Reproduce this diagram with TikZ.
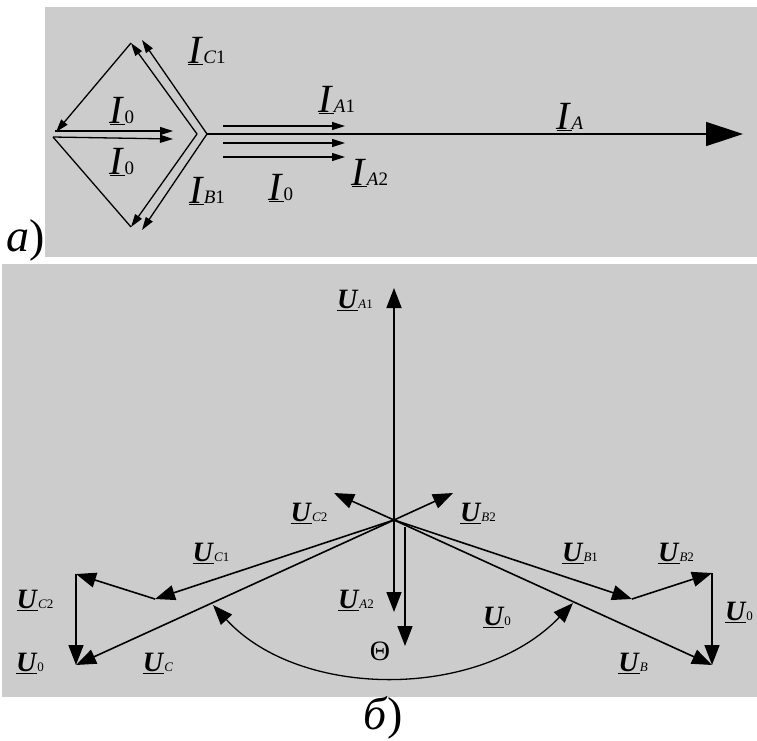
\documentclass[tikz,border=0pt]{standalone}
\usepackage{fontspec}
\setmainfont{Liberation Serif}
\usetikzlibrary{arrows.meta}
\definecolor{panelgray}{RGB}{204,204,204}
\newcommand{\Iv}[1]{\fontsize{40}{40}\selectfont\underline{\textit{I}}{\fontsize{19}{19}\selectfont#1}}
\newcommand{\Uv}[1]{\fontsize{28}{28}\selectfont\underline{\textbf{\textit{U}}}{\fontsize{13}{13}\selectfont#1}}

\begin{document}
\begin{tikzpicture}[
  x = 1pt, y = -1pt,
  every node/.style = {inner sep=0pt},
  arrs/.style = {-{Triangle[length=13pt, width=8pt]}, line width=1.3pt},
  arrbig/.style = {-{Triangle[length=37pt, width=24pt]}, line width=1.5pt},
  arru/.style = {-{Triangle[length=20pt, width=15pt]}, line width=1.6pt},
  panel/.style = {fill=panelgray}
]

\useasboundingbox (0,0) rectangle (757,740);
\fill[panel] (45,7) rectangle (757,257);   % part a
\fill[panel] (2,264) rectangle (757,697);  % part b

% ---- part a: currents
\coordinate (T)  at (131,43);
\coordinate (L)  at (53,137);
\coordinate (Lu) at (55,131);
\coordinate (Lt) at (56,132);
\coordinate (Bt) at (131,227);
\coordinate (Vi) at (197,134);
\coordinate (V)  at (207,134);
\coordinate (To) at (142,40);
\coordinate (Bo) at (142,230);
\coordinate (I0a) at (173,131);
\coordinate (I0b) at (173,139);
\coordinate (IA) at (743,134);

\draw[arrs] (T) -- (Lt);    % I_C2
\draw[line width=1.3pt] (L) -- (Bt);
\draw[arrs] (Vi) -- (T);    % I_C1 inner
\draw[arrs] (V) -- (To);    % outer
\draw[arrs] (Vi) -- (Bt);   % I_B1 inner
\draw[arrs] (V) -- (Bo);    % outer
\draw[arrs] (Lu) -- (I0a);  % I_0
\draw[arrs] (L) -- (I0b);   % I_0
\draw[arrbig] (V) -- (IA);  % I_A

\draw[arrs] (223,126) coordinate (a1s) -- (345,126) coordinate (a1e);  % I_A1
\draw[arrs] (223,143) coordinate (a0s) -- (345,143) coordinate (a0e);  % I_0
\draw[arrs] (223,157) coordinate (a2s) -- (345,157) coordinate (a2e);  % I_A2

\node (lIC1) at (207,51)  {\Iv{\textit{C}1}};
\node (lI0a) at (122,111) {\Iv{0}};
\node (lI0b) at (122,162) {\Iv{0}};
\node (lIB1) at (207,191) {\Iv{\textit{B}1}};
\node (lIA1) at (337,100) {\Iv{\textit{A}1}};
\node (lIA2) at (370,173) {\Iv{\textit{A}2}};
\node (lI0c) at (281,188) {\Iv{0}};
\node (lIA)  at (570,117) {\Iv{\textit{A}}};
\node (capa) at (26,240)  {\fontsize{46}{46}\selectfont\textit{a})};

% ---- part b: voltages
\coordinate (O)   at (394,520);
\coordinate (UA1) at (394,288);
\coordinate (UC2) at (334,493);
\coordinate (UB2) at (453,493);
\coordinate (UA2) at (394,612);
\coordinate (U0s) at (405,527);
\coordinate (U0e) at (405,646);
\coordinate (C1)  at (155,599);
\coordinate (C2)  at (76,574);
\coordinate (C0)  at (76,665);
\coordinate (B1)  at (632,599);
\coordinate (B2)  at (712,573);
\coordinate (B0)  at (712,665);
\coordinate (thL) at (213,605);
\coordinate (thR) at (573,603);

\draw[arru] (O) -- (UA1);
\draw[arru] (O) -- (UC2);
\draw[arru] (O) -- (UB2);
\draw[arru] (O) -- (UA2);
\draw[arru] (U0s) -- (U0e);
\draw[arru] (O) -- (C1);    % U_C1
\draw[arru] (C1) -- (C2);   % U_C2
\draw[arru] (C2) -- (C0);   % U_0
\draw[arru] (O) -- (C0);    % U_C
\draw[arru] (O) -- (B1);    % U_B1
\draw[arru] (B1) -- (B2);   % U_B2
\draw[arru] (B2) -- (B0);   % U_0
\draw[arru] (O) -- (B0);    % U_B
\draw[{Triangle[length=20pt, width=15pt]}-{Triangle[length=20pt, width=15pt]}, line width=1.3pt]
  (thL) .. controls (300,700) and (480,700) .. (thR);

\node (lUA1) at (355,300) {\Uv{\textit{A}1}};
\node (lUC2) at (309,513) {\Uv{\textit{C}2}};
\node (lUB2) at (478,513) {\Uv{\textit{B}2}};
\node (lUC1) at (211,553) {\Uv{\textit{C}1}};
\node (lUCc) at (35,600)  {\Uv{\textit{C}2}};
\node (lU0l) at (30,663)  {\Uv{0}};
\node (lUC)  at (158,663) {\Uv{\textit{C}}};
\node (lUA2) at (356,600) {\Uv{\textit{A}2}};
\node (lU0m) at (497,617) {\Uv{0}};
\node (lUB1) at (580,553) {\Uv{\textit{B}1}};
\node (lUBb) at (676,553) {\Uv{\textit{B}2}};
\node (lU0r) at (739,612) {\Uv{0}};
\node (lUB)  at (633,663) {\Uv{\textit{B}}};
\node (lth)  at (380,651) {\fontsize{28}{28}\selectfont Θ};
\node (capb) at (383,718) {\fontsize{46}{46}\selectfont\textit{б})};

\end{tikzpicture}
\end{document}
